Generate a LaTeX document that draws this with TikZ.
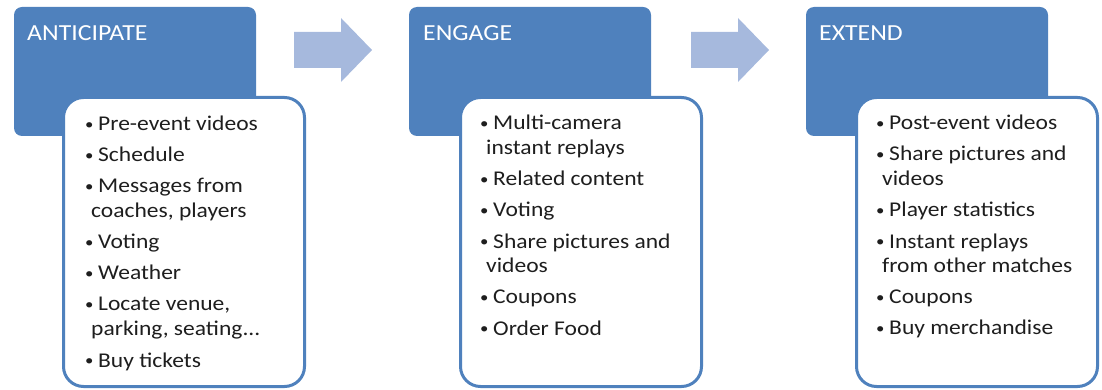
\documentclass[tikz,border=0pt]{standalone}
\usepackage{fontspec}
\setmainfont{Carlito}
\newfontfamily\panelfont[FakeStretch=1.12]{Carlito}

\definecolor{panelblue}{RGB}{79,129,189}
\definecolor{arrowblue}{RGB}{166,185,221}
\definecolor{bodytext}{RGB}{30,30,30}

% one bullet line, one wrapped continuation line, and the gap between items
\newcommand\itemdot{\raisebox{1.5pt}{\fontsize{15}{15}\selectfont •}}
\newcommand\itemline[1]{\hbox{\makebox[13pt][l]{\itemdot}#1}}
\newcommand\contline[1]{\hbox{\hspace*{6pt}#1}}
\newcommand\itemgap{\vskip6pt}
\newcommand\itemlist[1]{\vtop{\baselineskip=25pt\lineskiplimit=-\maxdimen #1}}

\begin{document}
\begin{tikzpicture}[x=1pt,y=-1pt,
  headbox/.style={fill=panelblue, rounded corners=8pt, minimum width=242pt,
    minimum height=129pt, anchor=north west, inner sep=0pt, outer sep=0pt},
  listbox/.style={draw=panelblue, line width=3pt, fill=white, rounded corners=20pt,
    minimum width=241pt, minimum height=289pt, anchor=north west, inner sep=0pt, outer sep=0pt},
  headtext/.style={text=white, font=\panelfont\fontsize{23}{25}\selectfont,
    anchor=base west, inner sep=0pt},
  listtext/.style={text=bodytext, font=\panelfont\fontsize{21}{25}\selectfont,
    anchor=base west, inner sep=0pt},
  flow/.style={fill=arrowblue}]

\useasboundingbox (0,0) rectangle (1102,390);

% ---- Anticipate
\begin{scope}[shift={(62,0)}]
  \node[headbox] (antHead) at (-48,7) {};
  \node[headtext] (antTitle) at (-35,41) {ANTICIPATE};
  \node[listbox] (antList) at (1.5,97.5) {};
  \node[listtext] (antItems) at (23,131) {\itemlist{%
    \itemline{Pre-event videos}\itemgap
    \itemline{Schedule}\itemgap
    \itemline{Messages from}
    \contline{coaches, players}\itemgap
    \itemline{Voting}\itemgap
    \itemline{Weather}\itemgap
    \itemline{Locate venue,}
    \contline{parking, seating...}\itemgap
    \itemline{Buy tickets}}};
  \fill[flow] (232,32) -- (279,32) -- (279,18) -- (310,50) -- (279,82) -- (279,68) -- (232,68) -- cycle;
\end{scope}

% ---- Engage
\begin{scope}[shift={(459,0)}]
  \node[headbox] (engHead) at (-50,7) {};
  \node[headtext] (engTitle) at (-36,41) {ENGAGE};
  \node[listbox] (engList) at (1.5,97.5) {};
  \node[listtext] (engItems) at (21,130) {\itemlist{%
    \itemline{Multi-camera}
    \contline{instant replays}\itemgap
    \itemline{Related content}\itemgap
    \itemline{Voting}\itemgap
    \itemline{Share pictures and}
    \contline{videos}\itemgap
    \itemline{Coupons}\itemgap
    \itemline{Order Food}}};
  \fill[flow] (232,32) -- (279,32) -- (279,18) -- (310,50) -- (279,82) -- (279,68) -- (232,68) -- cycle;
\end{scope}

% ---- Extend
\begin{scope}[shift={(855,0)}]
  \node[headbox] (extHead) at (-49,7) {};
  \node[headtext] (extTitle) at (-36,41) {EXTEND};
  \node[listbox] (extList) at (1.5,97.5) {};
  \node[listtext] (extItems) at (21,130) {\itemlist{%
    \itemline{Post-event videos}\itemgap
    \itemline{Share pictures and}
    \contline{videos}\itemgap
    \itemline{Player statistics}\itemgap
    \itemline{Instant replays}
    \contline{from other matches}\itemgap
    \itemline{Coupons}\itemgap
    \itemline{Buy merchandise}}};
\end{scope}

\end{tikzpicture}
\end{document}
